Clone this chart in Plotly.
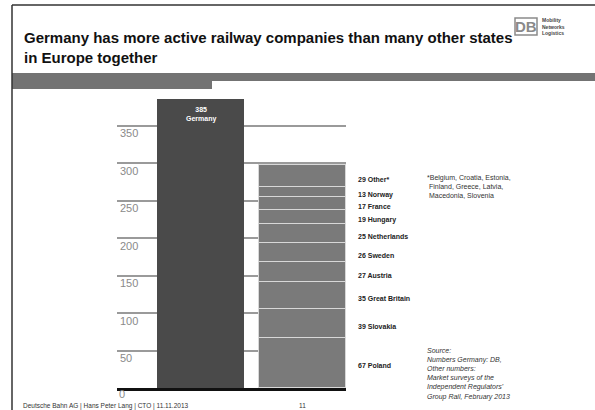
import plotly.graph_objects as go

# --- data -------------------------------------------------------------
germany_value = 385
germany_label = "Germany"

# other states, stacked from the bottom up
other_states = ["Poland", "Slovakia", "Great Britain", "Austria", "Sweden",
                "Netherlands", "Hungary", "France", "Norway", "Other*"]
other_values = [67, 39, 35, 27, 26, 25, 19, 17, 13, 29]

tick_values = [0, 50, 100, 150, 200, 250, 300, 350]

title_text = ("Germany has more active railway companies than many other states"
              "<br>in Europe together")
footnote_text = "*Belgium, Croatia, Estonia,<br> Finland, Greece, Latvia,<br> Macedonia, Slovenia"
source_text = ("Source:<br>Numbers Germany: DB,<br>Other numbers:<br>Market surveys of the"
               "<br>Independent Regulators'<br>Group Rail, February 2013")
footer_text = "Deutsche Bahn AG | Hans Peter Lang | CTO | 11.11.2013"
page_number = "11"

# --- page geometry ----------------------------------------------------
W, H = 595, 410
L, R, T, B = 117, 249, 88, 22
PW, PH = W - L - R, H - T - B
Y_MAX = 400


def px(x):
    """page pixel x -> paper fraction"""
    return (x - L) / PW


def py(y):
    """page pixel y (from top) -> paper fraction"""
    return (H - B - y) / PH


FONT = "Liberation Sans, Arial, sans-serif"
TICK_FONT = dict(family=FONT, size=11, color="#8a8a8a")
BAR_W = 0.858

fig = go.Figure()

fig.add_trace(go.Bar(
    x=[0], y=[germany_value], width=BAR_W,
    marker=dict(color="#4a4a4a", line=dict(width=0)),
    showlegend=False, hoverinfo="skip",
))

for name, val in zip(other_states, other_values):
    fig.add_trace(go.Bar(
        x=[1], y=[val], width=BAR_W, name=name,
        marker=dict(color="#7a7a7a", line=dict(color="#d8d8d8", width=1.5)),
        showlegend=False, hoverinfo="skip",
    ))

annotations = []

# the lowest tick label sits below the plot area, so it is drawn separately
annotations.append(dict(
    x=0, y=tick_values[0], xref="paper", yref="y", xanchor="left", yanchor="middle",
    yshift=-6, text=str(tick_values[0]), showarrow=False, font=TICK_FONT,
))

# label inside the Germany bar
annotations.append(dict(
    x=0, y=germany_value, xref="x", yref="y", yanchor="top", yshift=-5,
    text=f"<b>{germany_value}<br>{germany_label}</b>", showarrow=False,
    font=dict(family=FONT, size=7, color="white"), align="center",
))

# labels beside each stacked segment (placed right of the plot area)
cum = 0
for name, val in zip(other_states, other_values):
    mid = cum + val / 2
    cum += val
    annotations.append(dict(
        x=px(356), y=mid / Y_MAX, xref="paper", yref="paper",
        xanchor="left", yanchor="middle",
        yshift=-3, text=f"<b>{val} {name}</b>", showarrow=False,
        font=dict(family=FONT, size=7, color="#222222"),
    ))

# side notes
annotations.append(dict(
    x=px(425), y=py(172), xref="paper", yref="paper", xanchor="left", yanchor="top",
    text=footnote_text, showarrow=False, align="left",
    font=dict(family=FONT, size=7, color="#333333"),
))
annotations.append(dict(
    x=px(425), y=py(345), xref="paper", yref="paper", xanchor="left", yanchor="top",
    text="<i>" + source_text + "</i>", showarrow=False, align="left",
    font=dict(family=FONT, size=7, color="#333333"),
))

# footer
annotations.append(dict(
    x=px(21), y=py(405.5), xref="paper", yref="paper", xanchor="left", yanchor="middle",
    text=footer_text, showarrow=False,
    font=dict(family=FONT, size=6.5, color="#333333"),
))
annotations.append(dict(
    x=px(302), y=py(405.5), xref="paper", yref="paper", xanchor="center", yanchor="middle",
    text=page_number, showarrow=False,
    font=dict(family=FONT, size=6.5, color="#333333"),
))

# logo
annotations.append(dict(
    x=px(526), y=py(26.5), xref="paper", yref="paper", xanchor="center", yanchor="middle",
    text="<b>DB</b>", showarrow=False,
    font=dict(family=FONT, size=15, color="#8a8a8a"),
))
annotations.append(dict(
    x=px(540), y=py(26.5), xref="paper", yref="paper", xanchor="left", yanchor="middle",
    text="<b>Mobility<br>Networks<br>Logistics</b>", showarrow=False, align="left",
    font=dict(family=FONT, size=5, color="#444444"),
))

shapes = [
    # slide frame
    dict(type="line", xref="paper", yref="paper", x0=px(12), x1=px(W), y0=py(5), y1=py(5),
         line=dict(color="#333333", width=1.5)),
    dict(type="line", xref="paper", yref="paper", x0=px(12), x1=px(12), y0=py(5), y1=py(H),
         line=dict(color="#333333", width=1.5)),
    # header band
    dict(type="rect", xref="paper", yref="paper", x0=px(12), x1=px(W), y0=py(81), y1=py(73),
         fillcolor="#737373", line=dict(width=0), layer="below"),
    dict(type="rect", xref="paper", yref="paper", x0=px(12), x1=px(212), y0=py(89), y1=py(81),
         fillcolor="#737373", line=dict(width=0), layer="below"),
    # logo box
    dict(type="rect", xref="paper", yref="paper", x0=px(515), x1=px(537), y0=py(35), y1=py(18),
         fillcolor="white", line=dict(color="#8a8a8a", width=1.5)),
]

fig.update_layout(
    width=W, height=H,
    margin=dict(l=L, r=R, t=T, b=B, pad=0),
    paper_bgcolor="white", plot_bgcolor="white",
    barmode="stack", bargap=0,
    title=dict(text=f"<b>{title_text}</b>", xref="container", yref="container",
               x=24 / W, xanchor="left", y=1 - 43 / H, yanchor="top",
               font=dict(family=FONT, size=15, color="#111111")),
    xaxis=dict(range=[-0.826, 1.432], showticklabels=False, showgrid=False,
               zeroline=False, showline=True, linecolor="#111111", linewidth=2.5,
               fixedrange=True),
    yaxis=dict(range=[0, Y_MAX], tickvals=tick_values, ticks="",
               ticklabelposition="inside", ticklabelshift=8, ticklabelstandoff=0,
               tickfont=TICK_FONT,
               showgrid=True, gridcolor="#9a9a9a", gridwidth=1.5,
               zeroline=False, showline=False, fixedrange=True),
    annotations=annotations,
    shapes=shapes,
)

fig.write_html("out.html")
